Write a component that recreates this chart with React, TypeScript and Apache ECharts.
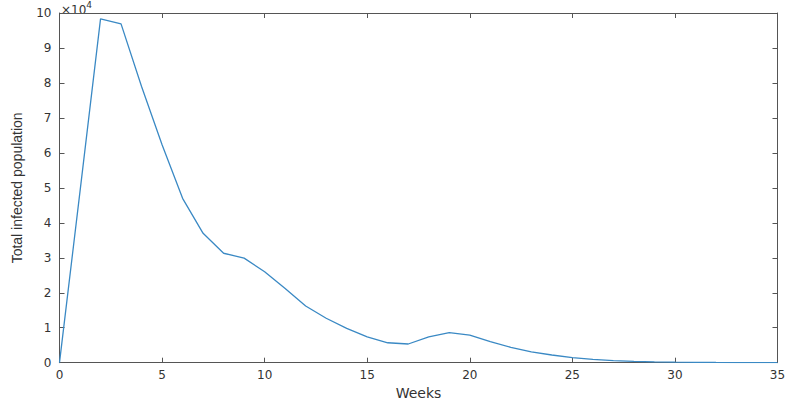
import React, { useEffect, useRef } from "react";
import * as echarts from "echarts";

const weeks = [0,1,2,3,4,5,6,7,8,9,10,11,12,13,14,15,16,17,18,19,20,21,22,23,24,25,26,27,28,29,30,31,32,33,34,35];
const infected = [0,49000,98300,96900,79000,62300,47000,37000,31300,29900,26000,21200,16200,12700,9800,7400,5700,5350,7400,8600,7900,6000,4400,3100,2200,1450,950,620,400,260,170,110,70,45,30,20];
const xTicks = [0,5,10,15,20,25,30,35];
const yTicks = [0,1,2,3,4,5,6,7,8,9,10];

const axisColor = "#555555";
const tickFont = "DejaVu Sans";

export default function App() {
  const ref = useRef<HTMLDivElement>(null);
  useEffect(() => {
    if (!ref.current) return;
    const chart = echarts.init(ref.current, null, { renderer: "svg" });
    const axisLine = { show: true, onZero: false, lineStyle: { color: axisColor, width: 1 } };
    const axisTick = { show: true, inside: true, length: 5, lineStyle: { color: axisColor } };
    chart.setOption({
      animation: false,
      backgroundColor: "#ffffff",
      grid: { left: 59.5, right: 8.5, top: 13, bottom: 37.3, containLabel: false, outerBoundsMode: "none" },
      xAxis: [
        {
          type: "value", min: xTicks[0], max: xTicks[xTicks.length - 1], interval: 5,
          position: "bottom",
          name: "Weeks", nameLocation: "middle", nameGap: 23,
          nameTextStyle: { fontFamily: tickFont, fontSize: 14, color: "#333" },
          axisLine, axisTick,
          axisLabel: { fontFamily: tickFont, fontSize: 12, color: "#333", margin: 6 },
          splitLine: { show: false },
        },
        {
          type: "value", min: xTicks[0], max: xTicks[xTicks.length - 1], interval: 5,
          position: "top",
          axisLine, axisTick, axisLabel: { show: false }, splitLine: { show: false },
        },
      ],
      yAxis: [
        {
          type: "value", min: 0, max: yTicks[yTicks.length - 1] * 10000, interval: 10000,
          position: "left",
          name: "Total infected population", nameLocation: "middle", nameGap: 36, nameRotate: 90,
          nameTextStyle: { fontFamily: "'Liberation Sans Narrow', 'Liberation Sans', sans-serif", fontSize: 14, color: "#333" },
          axisLine, axisTick,
          axisLabel: { fontFamily: tickFont, fontSize: 12, color: "#333", margin: 8, formatter: (v: number) => String(v / 10000) },
          splitLine: { show: false },
        },
        {
          type: "value", min: 0, max: yTicks[yTicks.length - 1] * 10000, interval: 10000,
          position: "right",
          axisLine, axisTick, axisLabel: { show: false }, splitLine: { show: false },
        },
      ],
      graphic: [
        {
          type: "text", left: 61, top: 0,
          style: {
            text: "{a|×10}{b|4}",
            rich: {
              a: { fontFamily: tickFont, fontSize: 12, fill: "#333", verticalAlign: "bottom", padding: [4, 0, 0, 0] },
              b: { fontFamily: tickFont, fontSize: 9, fill: "#333", verticalAlign: "top" },
            },
          },
        },
      ],
      series: [
        {
          type: "line",
          xAxisIndex: 0, yAxisIndex: 0,
          data: weeks.map((w, i) => [w, infected[i]]),
          showSymbol: false,
          lineStyle: { color: "#3a89c4", width: 1.3 },
        },
      ],
    });
    return () => chart.dispose();
  }, []);
  return <div ref={ref} style={{ width: 786, height: 400, position: "absolute", left: 0, top: 0 }} />;
}
